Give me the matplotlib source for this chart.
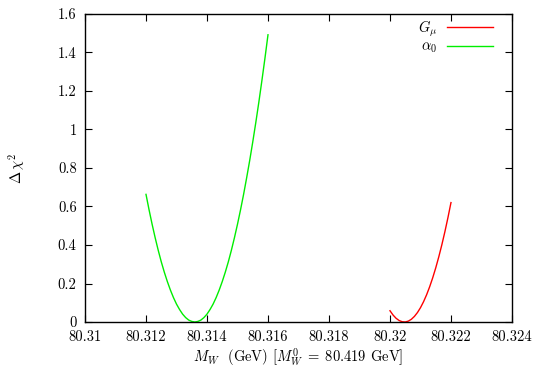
import numpy as np
import matplotlib
matplotlib.use("Agg")
import matplotlib.pyplot as plt
from matplotlib.ticker import FuncFormatter, MultipleLocator

plt.rcParams["font.family"] = "cmr10"
plt.rcParams["mathtext.fontset"] = "cm"
plt.rcParams["axes.formatter.use_mathtext"] = True

# --- G_mu scan (red) ---
mw_gmu = [80.3200, 80.3201, 80.3202, 80.3203, 80.3204, 80.3205, 80.3206,
          80.3207, 80.3208, 80.3209, 80.3210, 80.3211, 80.3212, 80.3213,
          80.3214, 80.3215, 80.3216, 80.3217, 80.3218, 80.3219, 80.3220]
chi2_gmu = [0.0585, 0.0363, 0.0193, 0.0077, 0.0013, 0.0002, 0.0045,
            0.0140, 0.0289, 0.0490, 0.0744, 0.1052, 0.1412, 0.1826,
            0.2292, 0.2811, 0.3384, 0.4009, 0.4688, 0.5419, 0.6203]

# --- alpha_0 scan (green) ---
mw_a0 = [80.3120, 80.3121, 80.3122, 80.3123, 80.3124, 80.3125, 80.3126,
         80.3127, 80.3128, 80.3129, 80.3130, 80.3131, 80.3132, 80.3133,
         80.3134, 80.3135, 80.3136, 80.3137, 80.3138, 80.3139, 80.3140,
         80.3141, 80.3142, 80.3143, 80.3144, 80.3145, 80.3146, 80.3147,
         80.3148, 80.3149, 80.3150, 80.3151, 80.3152, 80.3153, 80.3154,
         80.3155, 80.3156, 80.3157, 80.3158, 80.3159, 80.3160]
chi2_a0 = [0.663, 0.583, 0.508, 0.438, 0.373, 0.313, 0.259, 0.210, 0.166,
           0.127, 0.093, 0.065, 0.041, 0.023, 0.010, 0.003, 0.000, 0.003,
           0.010, 0.023, 0.041, 0.065, 0.093, 0.127, 0.166, 0.210, 0.259,
           0.313, 0.373, 0.438, 0.508, 0.583, 0.663, 0.749, 0.839, 0.935,
           1.036, 1.142, 1.254, 1.370, 1.492]

fig = plt.figure(figsize=(5.37, 3.72), dpi=100)
ax = fig.add_axes([0.1583, 0.1344, 0.7951, 0.8280])

ax.plot(mw_gmu, chi2_gmu, color="#ff0000", lw=1.0, label=r"$G_\mu$")
ax.plot(mw_a0, chi2_a0, color="#00ee00", lw=1.0, label=r"$\alpha_0$")

ax.set_xlim(80.31, 80.324)
ax.set_ylim(0, 1.6)
ax.xaxis.set_major_locator(MultipleLocator(0.002))
ax.yaxis.set_major_locator(MultipleLocator(0.2))
fmt = FuncFormatter(lambda v, p: "%g" % round(v, 6))
ax.xaxis.set_major_formatter(fmt)
ax.yaxis.set_major_formatter(fmt)
ax.tick_params(direction="in", length=5, width=0.8, top=True, right=True,
               labelsize=10.5, pad=6)
for s in ax.spines.values():
    s.set_linewidth(1.0)

ax.set_xlabel(r"$M_W$  (GeV) [$M_W^0\;=\;80.419$ GeV]", fontsize=10.5,
              labelpad=2)
ax.set_ylabel(r"$\Delta\,\chi^2$", fontsize=10.5, labelpad=22)

ax.legend(loc="upper right", bbox_to_anchor=(0.965, 1.0), frameon=False,
          markerfirst=False, fontsize=10.5, handlelength=3.1,
          handletextpad=0.7, labelspacing=0.1, borderaxespad=0.0,
          borderpad=0.3)

fig.savefig("out.png", dpi=100)
